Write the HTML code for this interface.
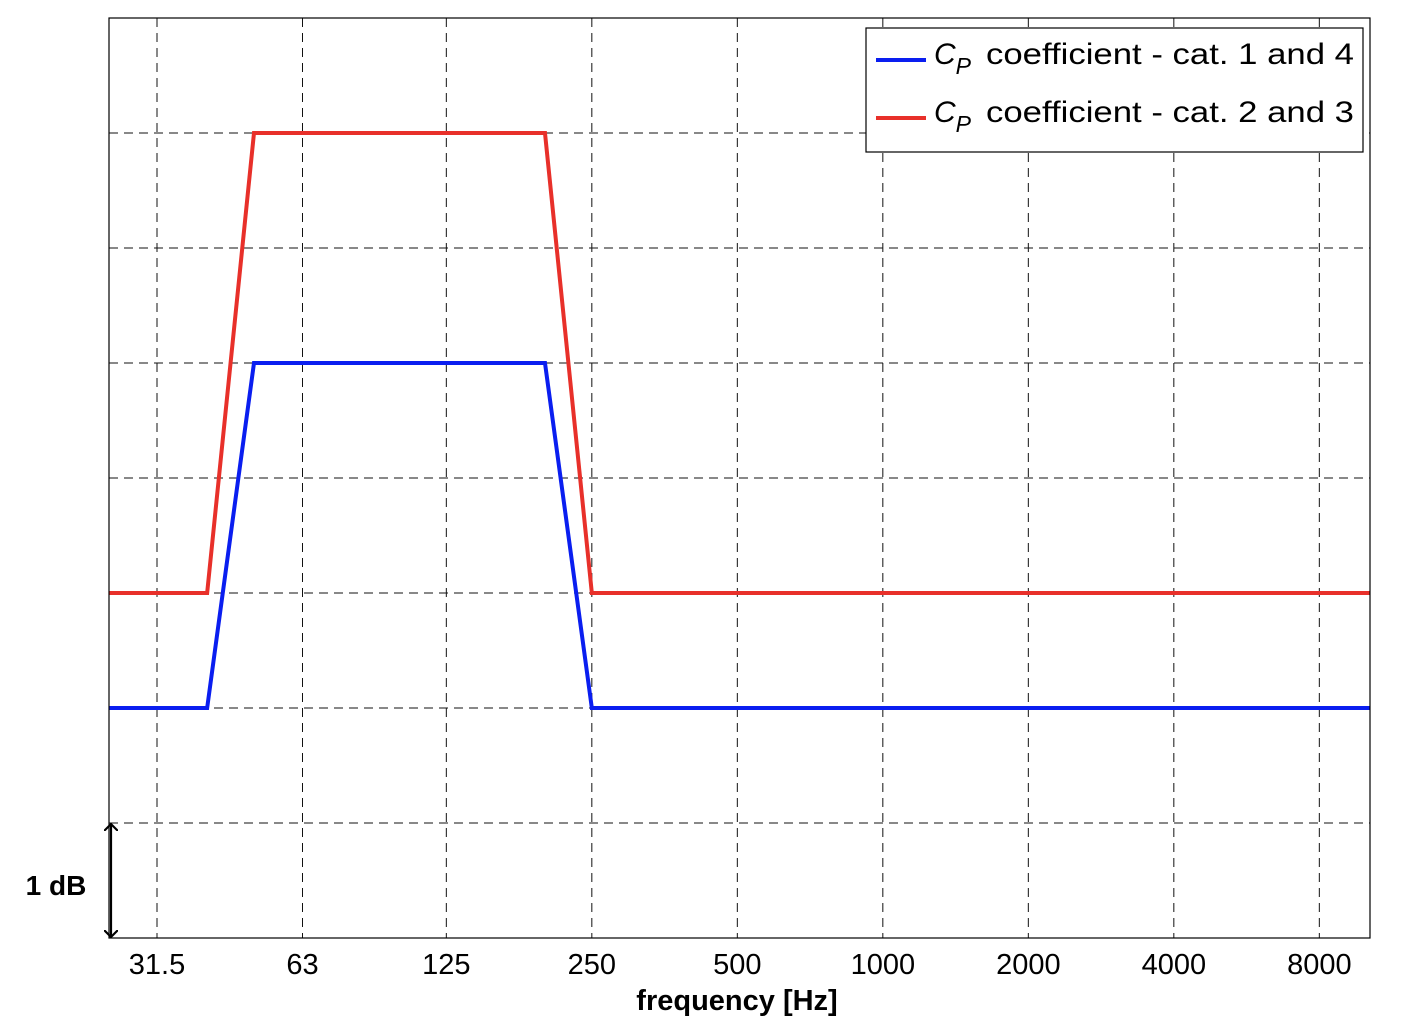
<!DOCTYPE html>
<html><head><meta charset="utf-8"><style>
html,body{margin:0;padding:0;background:#fff;}
svg{display:block;font-family:"Liberation Sans",Arial,sans-serif;}
</style></head><body>
<svg id="chart" width="1416" height="1036" viewBox="0 0 1416 1036">
<defs>
<marker id="ah" markerWidth="14" markerHeight="14" refX="7" refY="7" orient="auto-start-reverse" markerUnits="userSpaceOnUse">
<path d="M0,0 L7,7 L0,14" fill="none" stroke="#000" stroke-width="2.2"/>
</marker>
</defs>
<g id="grid"></g>
<g id="series"></g>
<rect x="109" y="18" width="1261" height="920" fill="none" stroke="#000" stroke-width="1.2"/>
<g id="xticks"></g>
<text x="737" y="1010" text-anchor="middle" font-size="29" font-weight="bold">frequency [Hz]</text>
<line x1="111" y1="824" x2="111" y2="937" stroke="#000" stroke-width="2.2" marker-start="url(#ah)" marker-end="url(#ah)"/>
<text x="56" y="895" text-anchor="middle" font-size="28" font-weight="bold">1 dB</text>
<g>
<rect x="866" y="28" width="497" height="124" fill="#fff" stroke="#000" stroke-width="1.2"/>
<line x1="876" y1="60" x2="926" y2="60" stroke="#0a1ef0" stroke-width="4"/>
<text x="934" y="64" font-size="30"><tspan font-style="italic">C</tspan><tspan font-style="italic" font-size="23" dy="10">P</tspan><tspan x="986" dy="-10" textLength="368" lengthAdjust="spacingAndGlyphs">coefficient - cat. 1 and 4</tspan></text>
<line x1="876" y1="118" x2="926" y2="118" stroke="#e8302a" stroke-width="4"/>
<text x="934" y="122" font-size="30"><tspan font-style="italic">C</tspan><tspan font-style="italic" font-size="23" dy="10">P</tspan><tspan x="986" dy="-10" textLength="368" lengthAdjust="spacingAndGlyphs">coefficient - cat. 2 and 3</tspan></text>
</g>
</svg>
<script>
const tickFreqs = [31.5, 63, 125, 250, 500, 1000, 2000, 4000, 8000];
const tickLabels = ["31.5", "63", "125", "250", "500", "1000", "2000", "4000", "8000"];
const yGridValues = [1, 2, 3, 4, 5, 6, 7];
const freqs = [25, 40, 50, 200, 250, 10500];
const blueValues = [2, 2, 5, 5, 2, 2];
const redValues = [3, 3, 7, 7, 3, 3];

const NS = "http://www.w3.org/2000/svg";
const X0 = 157, OCT = 145.5;
function xScale(f){ return X0 + Math.log2(f/31.5)*OCT; }
function yScale(v){ return 938 - v*115; }
function xClamp(x){ return Math.max(109, Math.min(1370, x)); }

const grid = document.getElementById('grid');
tickFreqs.forEach((f,i)=>{
  const x = xScale(f);
  const l = document.createElementNS(NS,'line');
  l.setAttribute('x1',x);l.setAttribute('x2',x);l.setAttribute('y1',18);l.setAttribute('y2',938);
  l.setAttribute('stroke','#111');l.setAttribute('stroke-width','1');l.setAttribute('stroke-dasharray','9,6');
  
  
  grid.appendChild(l);
  const t = document.createElementNS(NS,'text');
  t.setAttribute('x',x);t.setAttribute('y',974);t.setAttribute('text-anchor','middle');t.setAttribute('font-size','29');
  t.textContent = tickLabels[i];
  
  
  document.getElementById('xticks').appendChild(t);
});
yGridValues.forEach(v=>{
  const y = yScale(v);
  const l = document.createElementNS(NS,'line');
  l.setAttribute('x1',109);l.setAttribute('x2',1370);l.setAttribute('y1',y);l.setAttribute('y2',y);
  l.setAttribute('stroke','#111');l.setAttribute('stroke-width','1');l.setAttribute('stroke-dasharray','9,6');
  
  
  grid.appendChild(l);
});
function drawSeries(vals,color,name){
  const pts = freqs.map((f,i)=>xClamp(xScale(f))+','+yScale(vals[i])).join(' ');
  const p = document.createElementNS(NS,'polyline');
  p.setAttribute('points',pts);p.setAttribute('fill','none');p.setAttribute('stroke',color);p.setAttribute('stroke-width','4');
  
  
  document.getElementById('series').appendChild(p);
}
drawSeries(redValues,'#e8302a','series-cat-2-3');
drawSeries(blueValues,'#0a1ef0','series-cat-1-4');
</script>
</body></html>
